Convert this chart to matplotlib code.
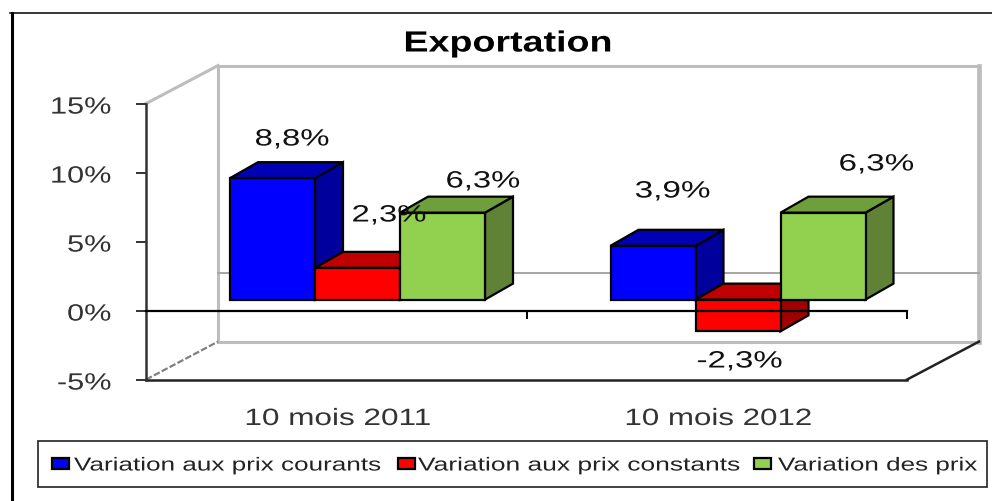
import matplotlib
matplotlib.use('Agg')
import matplotlib.pyplot as plt
from matplotlib.patches import Polygon, Rectangle
from matplotlib.lines import Line2D
from matplotlib.patheffects import AbstractPathEffect
from matplotlib.transforms import Affine2D

W, H = 992, 501

categories = ['10 mois 2011', '10 mois 2012']
series_names = ['Variation aux prix courants', 'Variation aux prix constants', 'Variation des prix']
courants = [8.8, 3.9]
constants = [2.3, -2.3]
prix = [6.3, 6.3]
y_ticks = [-5, 0, 5, 10, 15]
y_labels = ['-5%', '0%', '5%', '10%', '15%']
label_text = ['8,8%', '2,3%', '6,3%', '3,9%', '-2,3%', '6,3%']

front = ['#0000ff', '#ff0000', '#92d050']
top = ['#0000b4', '#c00000', '#6f9f3c']
side = ['#00009c', '#a00000', '#5f8237']

plt.rcParams['font.family'] = ['Liberation Sans', 'DejaVu Sans']
fig = plt.figure(figsize=(W / 100, H / 100), dpi=100)
ax = fig.add_axes([146 / W, 1 - 379.6 / H, 761 / W, 276 / H])
ax.set_xlim(0, 2)
ax.set_ylim(-5, 15)
ax.patch.set_visible(False)


# the reference is a horizontally stretched screenshot, so widen the glyphs
class Stretch(AbstractPathEffect):
    def __init__(self, sx, anchor=0.0, drop=1.5):
        super().__init__()
        self.sx = sx
        self.anchor = anchor
        self.drop = drop

    def draw_path(self, renderer, gc, tpath, affine, rgbFace=None):
        ext = tpath.get_extents()
        cx = ext.x0 + self.anchor * ext.width
        stretch = Affine2D().translate(-cx, 0).scale(self.sx, 1).translate(cx, 0)
        renderer.draw_path(gc, tpath, stretch + affine + Affine2D().translate(0, -self.drop), rgbFace)


def fit_text(x0, x1, yc, s, size, color='#111111', weight='normal'):
    t = fig.text(x0 / W, 1 - yc / H, s, ha='left', va='center', fontsize=size,
                 color=color, fontweight=weight, zorder=8)
    natural = t.get_window_extent(fig.canvas.get_renderer()).width
    t.set_path_effects([Stretch((x1 - x0) / natural)])
    return t


# depths in data units (px / scale)
sx = 761 / 2
sy = 276 / 20
wall_dx, wall_dy = 72 / sx, 38 / sy
bar_dx, bar_dy = 28 / sx, 16 / sy
lift = 11 / sy
bar_w = 85 / sx
bar_start = 84 / sx


def poly(pts, fc, z=3):
    ax.add_patch(Polygon(pts, closed=True, fc=fc, ec='black', lw=1.6, zorder=z, clip_on=False))


def wall_line(xs, ys, color='#bdbdbd', lw=2.2, ls='-'):
    ax.add_line(Line2D(xs, ys, color=color, lw=lw, ls=ls, zorder=1, clip_on=False))


# walls
wall_line([wall_dx, wall_dx, 2 + wall_dx, 2 + wall_dx, wall_dx],
          [-5 + wall_dy, 15 + wall_dy, 15 + wall_dy, -5 + wall_dy, -5 + wall_dy])
wall_line([2 + wall_dx, 2 + wall_dx], [-5 + wall_dy, 15 + wall_dy], lw=3.4)
wall_line([0, wall_dx], [15, 15 + wall_dy])
wall_line([0, wall_dx], [-5, -5 + wall_dy], color='#808080', lw=1.6, ls=(0, (3, 1)))
wall_line([wall_dx, 2 + wall_dx], [wall_dy, wall_dy], color='#a6a6a6', lw=1.4)
wall_line([2, 2 + wall_dx], [-5, -5 + wall_dy], color='#222222', lw=1.8)

# bars, drawn back to front per group
for i in range(2):
    for j, vals in enumerate([courants, constants, prix]):
        v = vals[i]
        x0 = i + bar_start + j * bar_w
        x1 = x0 + bar_w
        lo = min(v, 0) + lift
        hi = max(v, 0) + lift
        poly([(x1, lo), (x1 + bar_dx, lo + bar_dy), (x1 + bar_dx, hi + bar_dy), (x1, hi)], side[j])
        poly([(x0, hi), (x0 + bar_dx, hi + bar_dy), (x1 + bar_dx, hi + bar_dy), (x1, hi)], top[j])
        poly([(x0, lo), (x1, lo), (x1, hi), (x0, hi)], front[j], z=4)

# axes
for s in ['top', 'right']:
    ax.spines[s].set_visible(False)
ax.spines['left'].set_color('#333333')
ax.spines['left'].set_linewidth(1.8)
ax.spines['left'].set_zorder(6)
ax.spines['bottom'].set_position(('data', 0))
ax.spines['bottom'].set_linewidth(1.6)
ax.spines['bottom'].set_zorder(6)
ax.add_line(Line2D([0, 2], [-5, -5], color='#222222', lw=1.8, zorder=5, clip_on=False))
ax.set_xticks([1, 2])
ax.set_xticklabels([])
ax.tick_params(axis='x', direction='out', length=6, width=1.4, color='black')
ax.set_yticks(y_ticks)
ax.set_yticklabels(y_labels, fontsize=17, color='#333333')
ax.tick_params(axis='y', direction='out', length=7, width=1.4, color='#333333', pad=18)
for t in ax.get_yticklabels():
    t.set_path_effects([Stretch(1.3, anchor=1.0)])

fit_text(245, 432, 417.5, categories[0], 17, color='#333333')
fit_text(625, 813, 417.5, categories[1], 17, color='#333333')

# data labels
label_x0 = [255, 352, 446, 635, 697, 839]
label_x1 = [330, 427, 521, 711, 783, 915]
label_y = [138, 214, 180, 190, 360, 163]
for s, a, b, y in zip(label_text, label_x0, label_x1, label_y):
    fit_text(a, b, y, s, 17)

fit_text(404, 613, 42, 'Exportation', 21, color='black', weight='bold')

# legend, laid out by hand because the stretched text is wider than its box
fig.add_artist(Rectangle((38 / W, 1 - 487 / H), 949 / W, 46 / H, fc='white', ec='#333333', lw=1.3,
                         transform=fig.transFigure))
swatch_x = [52, 398, 754]
text_x0 = [74, 418, 778]
text_x1 = [381, 740, 977]
for name, f, sw, a, b in zip(series_names, front, swatch_x, text_x0, text_x1):
    fig.add_artist(Rectangle((sw / W, 1 - 469 / H), 17 / W, 11 / H, fc=f, ec='black', lw=1.6,
                             transform=fig.transFigure))
    fit_text(a, b, 464.5, name, 13.5, color='#222222')

# outer frame
fig.add_artist(Line2D([11.5 / W, 11.5 / W], [0, 1 - 13 / H], color='black', lw=2.2))
fig.add_artist(Line2D([10 / W, 992 / W], [1 - 13 / H, 1 - 13 / H], color='black', lw=1.1))

fig.savefig('out.png', dpi=100)
